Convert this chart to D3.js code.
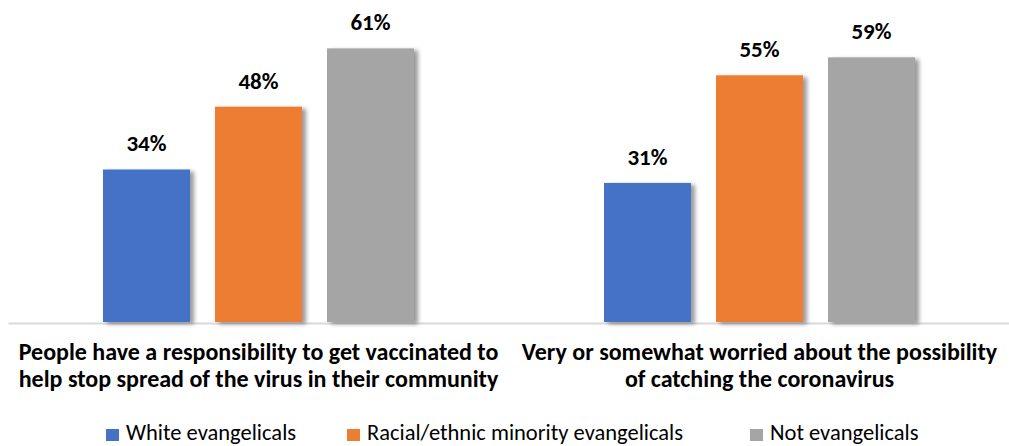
<!DOCTYPE html>
<html>
<head>
<meta charset="utf-8">
<script src="https://cdn.jsdelivr.net/npm/d3@7"></script>
<style>
  html, body { margin: 0; padding: 0; background: #fff; }
  svg { display: block; font-family: Calibri, Carlito, Lato, "Open Sans", sans-serif; }
</style>
</head>
<body>
<svg id="chart" width="1009" height="446"></svg>
<script>
// Survey results by religious group
const categories = [
  ["People have a responsibility to get vaccinated to", "help stop spread of the virus in their community"],
  ["Very or somewhat worried about the possibility", "of catching the coronavirus"]
];
const seriesNames = ["White evangelicals", "Racial/ethnic minority evangelicals", "Not evangelicals"];
const whiteEvangelicals = [34, 31];
const minorityEvangelicals = [48, 55];
const notEvangelicals = [61, 59];
const seriesColors = ["#4472C4", "#ED7D31", "#A5A5A5"];

const seriesValues = [whiteEvangelicals, minorityEvangelicals, notEvangelicals];
const data = categories.map((c, i) => ({
  key: i,
  lines: c,
  values: seriesNames.map((s, j) => ({ series: s, idx: j, value: seriesValues[j][i] }))
}));

const svg = d3.select("#chart");

const defs = svg.append("defs");
const shadow = defs.append("filter").attr("id", "barShadow")
  .attr("x", "-10%").attr("y", "-10%").attr("width", "130%").attr("height", "120%");
shadow.append("feDropShadow")
  .attr("dx", 4).attr("dy", 2).attr("stdDeviation", 2.2)
  .attr("flood-color", "#000").attr("flood-opacity", 0.4);

const x0 = d3.scaleBand().domain(data.map(d => d.key)).range([8, 1010]).padding(0);
const groupWidth = 311;
const x1 = d3.scaleBand().domain(d3.range(seriesNames.length))
  .range([x0.bandwidth() / 2 - groupWidth / 2, x0.bandwidth() / 2 + groupWidth / 2])
  .paddingInner(0.223).paddingOuter(0);
const y = d3.scaleLinear().domain([0, 70]).range([322, 8]);

// baseline
const xAxis = svg.append("g").attr("transform", `translate(0,${y(0) + 1})`)
  .call(d3.axisBottom(x0).tickSize(0).tickFormat(""));
xAxis.select(".domain").attr("stroke", "#d9d9d9").attr("stroke-width", 2);

const groups = svg.append("g").selectAll("g").data(data).join("g")
  .attr("transform", d => `translate(${x0(d.key)},0)`);

groups.selectAll("rect").data(d => d.values).join("rect")
  .attr("x", d => x1(d.idx))
  .attr("y", d => y(d.value))
  .attr("width", x1.bandwidth())
  .attr("height", d => y(0) - y(d.value))
  .attr("fill", d => seriesColors[d.idx])
  .attr("filter", "url(#barShadow)");

groups.selectAll("text.val").data(d => d.values).join("text")
  .attr("class", "val")
  .attr("x", d => x1(d.idx) + x1.bandwidth() / 2)
  .attr("y", d => y(d.value) - 18)
  .attr("text-anchor", "middle")
  .attr("font-weight", "bold")
  .attr("font-size", 23)
  .attr("fill", "#000")
  .text(d => d.value + "%");

// category labels
groups.append("text")
  .attr("x", x0.bandwidth() / 2)
  .attr("text-anchor", "middle")
  .attr("font-weight", "bold")
  .attr("font-size", 24)
  .attr("fill", "#000")
  .selectAll("tspan").data(d => d.lines).join("tspan")
  .attr("x", x0.bandwidth() / 2)
  .attr("y", (d, i) => 360 + i * 27)
  .text(d => d);

// legend
const legendX = [106, 347, 750];
const legend = svg.append("g").selectAll("g").data(seriesNames).join("g")
  .attr("transform", (d, i) => `translate(${legendX[i]},429)`);
legend.append("rect").attr("width", 13).attr("height", 12)
  .attr("fill", (d, i) => seriesColors[i]);
legend.append("text").attr("x", 20).attr("y", 11)
  .attr("font-size", 22.5).attr("fill", "#000").text(d => d);
</script>
</body>
</html>
